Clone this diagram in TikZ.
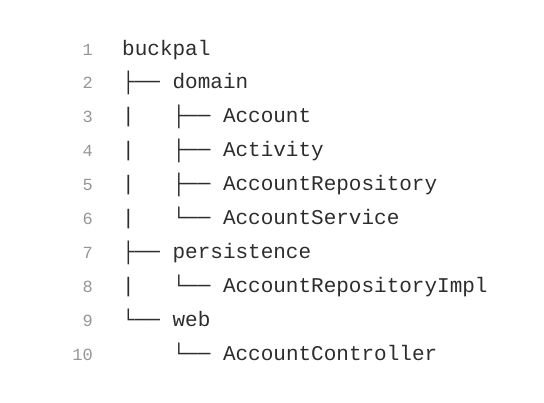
\documentclass[tikz,border=0pt]{standalone}
\usepackage{fontspec}
\setmonofont{Liberation Mono}
\definecolor{numgray}{RGB}{150,150,150}
\definecolor{codegray}{RGB}{45,45,45}
\tikzset{
  lineno/.style={anchor=base east, inner sep=0pt, text=numgray, font=\ttfamily\fontsize{17}{17}\selectfont},
  entry/.style={anchor=base west, inner sep=0pt, text=codegray, font=\ttfamily\fontsize{21}{21}\selectfont}
}
\begin{document}
\begin{tikzpicture}[x=1pt,y=-1pt]
	\useasboundingbox (0,0) rectangle (544,402);
	
	% line numbers
	\foreach \i in {1,...,10}
		\node[lineno] (n\i) at (93,55+33.9*\i-33.9) {\i};
	
	% tree
	\foreach \i/\t in {1/buckpal,
			2/├──~domain,
			3/|~~~├──~Account,
			4/|~~~├──~Activity,
			5/|~~~├──~AccountRepository,
			6/|~~~└──~AccountService,
			7/├──~persistence,
			8/|~~~└──~AccountRepositoryImpl,
			9/└──~web,
			10/~~~~└──~AccountController}
		\node[entry] (l\i) at (122,55+33.9*\i-33.9) {\t};
\end{tikzpicture}
\end{document}
